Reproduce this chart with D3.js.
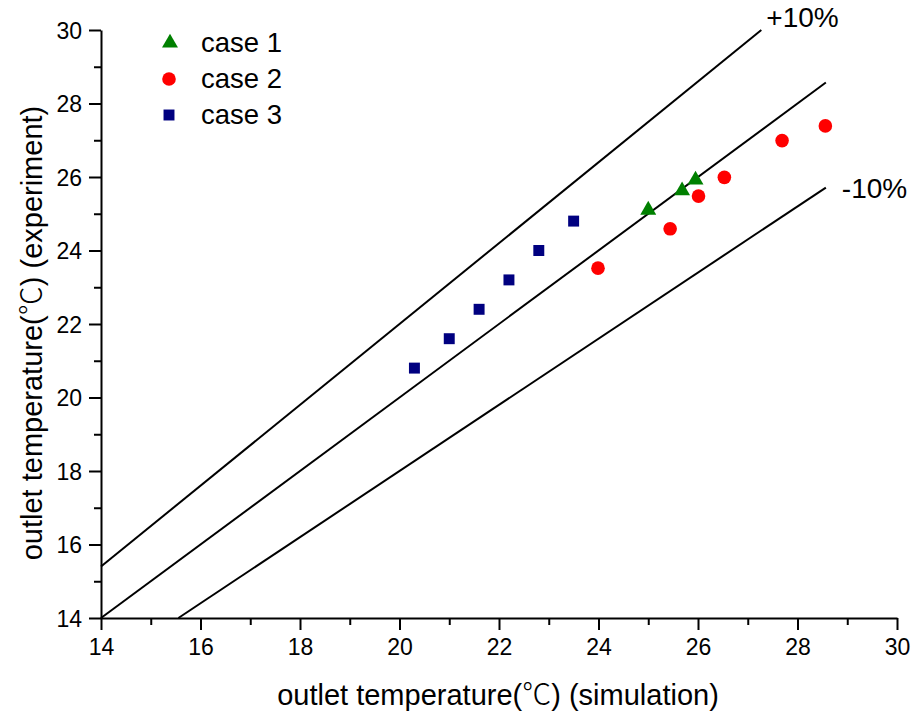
<!DOCTYPE html>
<html>
<head>
<meta charset="utf-8">
<script src="https://cdn.jsdelivr.net/npm/d3@7"></script>
<style>
  html, body { margin: 0; padding: 0; background: #fff; }
  svg { display: block; }
  text { font-family: Arial, "Liberation Sans", sans-serif; fill: #000; }
  .deg { font-family: "Noto Sans CJK SC", "Noto Sans CJK JP", sans-serif; font-weight: 300; }
</style>
</head>
<body>
<svg id="chart" width="913" height="713"></svg>
<script>
// ---- data ----
const case1X = [25.0, 25.68, 25.95];
const case1Y = [25.1, 25.63, 25.92];
const case2X = [23.99, 25.44, 26.01, 26.53, 27.69, 28.56];
const case2Y = [23.52, 24.59, 25.48, 25.99, 26.99, 27.39];
const case3X = [20.3, 21.0, 21.6, 22.2, 22.8, 23.5];
const case3Y = [20.8, 21.6, 22.4, 23.2, 24.0, 24.8];
const seriesNames = ["case 1", "case 2", "case 3"];
const majorTicks = [14, 16, 18, 20, 22, 24, 26, 28, 30];
const minorTicks = [15, 17, 19, 21, 23, 25, 27, 29];
// reference lines: y = k * x, drawn between given x ends
const refFactors = [1.1, 1.0, 0.9];
const refXStart = [14, 14, 15.556];
const refXEnd = [27.273, 28.57, 28.57];
const refLabels = ["+10%", "-10%"];

const svg = d3.select("#chart");
const x = d3.scaleLinear().domain([14, 30]).range([101, 897]);
const y = d3.scaleLinear().domain([14, 30]).range([618, 30]);

// axes
const xAxis = d3.axisBottom(x).tickValues(majorTicks).tickSize(12).tickSizeOuter(0).tickPadding(9).tickFormat(d3.format("d"));
const yAxis = d3.axisLeft(y).tickValues(majorTicks).tickSize(12).tickSizeOuter(0).tickPadding(7).tickFormat(d3.format("d"));
const gx = svg.append("g").attr("transform", `translate(0,${y(14)})`).call(xAxis);
const gy = svg.append("g").attr("transform", `translate(${x(14)},0)`).call(yAxis);
svg.append("g").attr("transform", `translate(0,${y(14)})`)
  .call(d3.axisBottom(x).tickValues(minorTicks).tickSize(7).tickSizeOuter(0).tickFormat(""))
  .select(".domain").remove();
svg.append("g").attr("transform", `translate(${x(14)},0)`)
  .call(d3.axisLeft(y).tickValues(minorTicks).tickSize(7).tickSizeOuter(0).tickFormat(""))
  .select(".domain").remove();
svg.selectAll(".domain, .tick line").attr("stroke", "#000").attr("stroke-width", 2);
gx.selectAll(".tick text").attr("font-size", 23);
gy.selectAll(".tick text").attr("font-size", 23).attr("dy", "0.35em");

// reference lines
refFactors.forEach((k, i) => {
  svg.append("line")
    .attr("x1", x(refXStart[i])).attr("y1", y(k * refXStart[i]))
    .attr("x2", x(refXEnd[i])).attr("y2", y(k * refXEnd[i]))
    .attr("stroke", "#000").attr("stroke-width", 2);
});
svg.append("text").attr("x", x(refXEnd[0]) + 5).attr("y", y(30) - 3)
  .attr("font-size", 28).text(refLabels[0]);
svg.append("text").attr("x", x(refXEnd[2]) + 16).attr("y", y(0.9 * refXEnd[2]) + 10)
  .attr("font-size", 28).text(refLabels[1]);

// markers
const tri = d3.symbol().type(d3.symbolTriangle).size(110);
const sq = d3.symbol().type(d3.symbolSquare).size(120);
svg.append("g").selectAll("path").data(case3X).join("path")
  .attr("d", sq).attr("transform", (d, i) => `translate(${x(d)},${y(case3Y[i])})`).attr("fill", "#000080");
svg.append("g").selectAll("circle").data(case2X).join("circle")
  .attr("cx", d => x(d)).attr("cy", (d, i) => y(case2Y[i])).attr("r", 6.8).attr("fill", "#ff0000");
svg.append("g").selectAll("path").data(case1X).join("path")
  .attr("d", tri).attr("transform", (d, i) => `translate(${x(d)},${y(case1Y[i])})`).attr("fill", "#008000");

// legend
const legY = [43, 79, 115];
const leg = svg.append("g");
leg.append("path").attr("d", tri).attr("transform", `translate(170,${legY[0]})`).attr("fill", "#008000");
leg.append("circle").attr("cx", 169).attr("cy", legY[1]).attr("r", 6.8).attr("fill", "#ff0000");
leg.append("path").attr("d", sq).attr("transform", `translate(169,${legY[2]})`).attr("fill", "#000080");
seriesNames.forEach((n, i) => {
  leg.append("text").attr("x", 201).attr("y", legY[i] + 9).attr("font-size", 27.5).text(n);
});

// axis titles
function title(sel, pre, post) {
  sel.append("tspan").text(pre);
  sel.append("tspan").attr("class", "deg").text("℃");
  sel.append("tspan").text(post);
}
title(svg.append("text").attr("x", 498).attr("y", 705).attr("text-anchor", "middle").attr("font-size", 29),
  "outlet temperature(", ") (simulation)");
title(svg.append("text").attr("transform", "translate(42,333) rotate(-90)").attr("text-anchor", "middle").attr("font-size", 29),
  "outlet temperature(", ") (experiment)");
</script>
</body>
</html>
